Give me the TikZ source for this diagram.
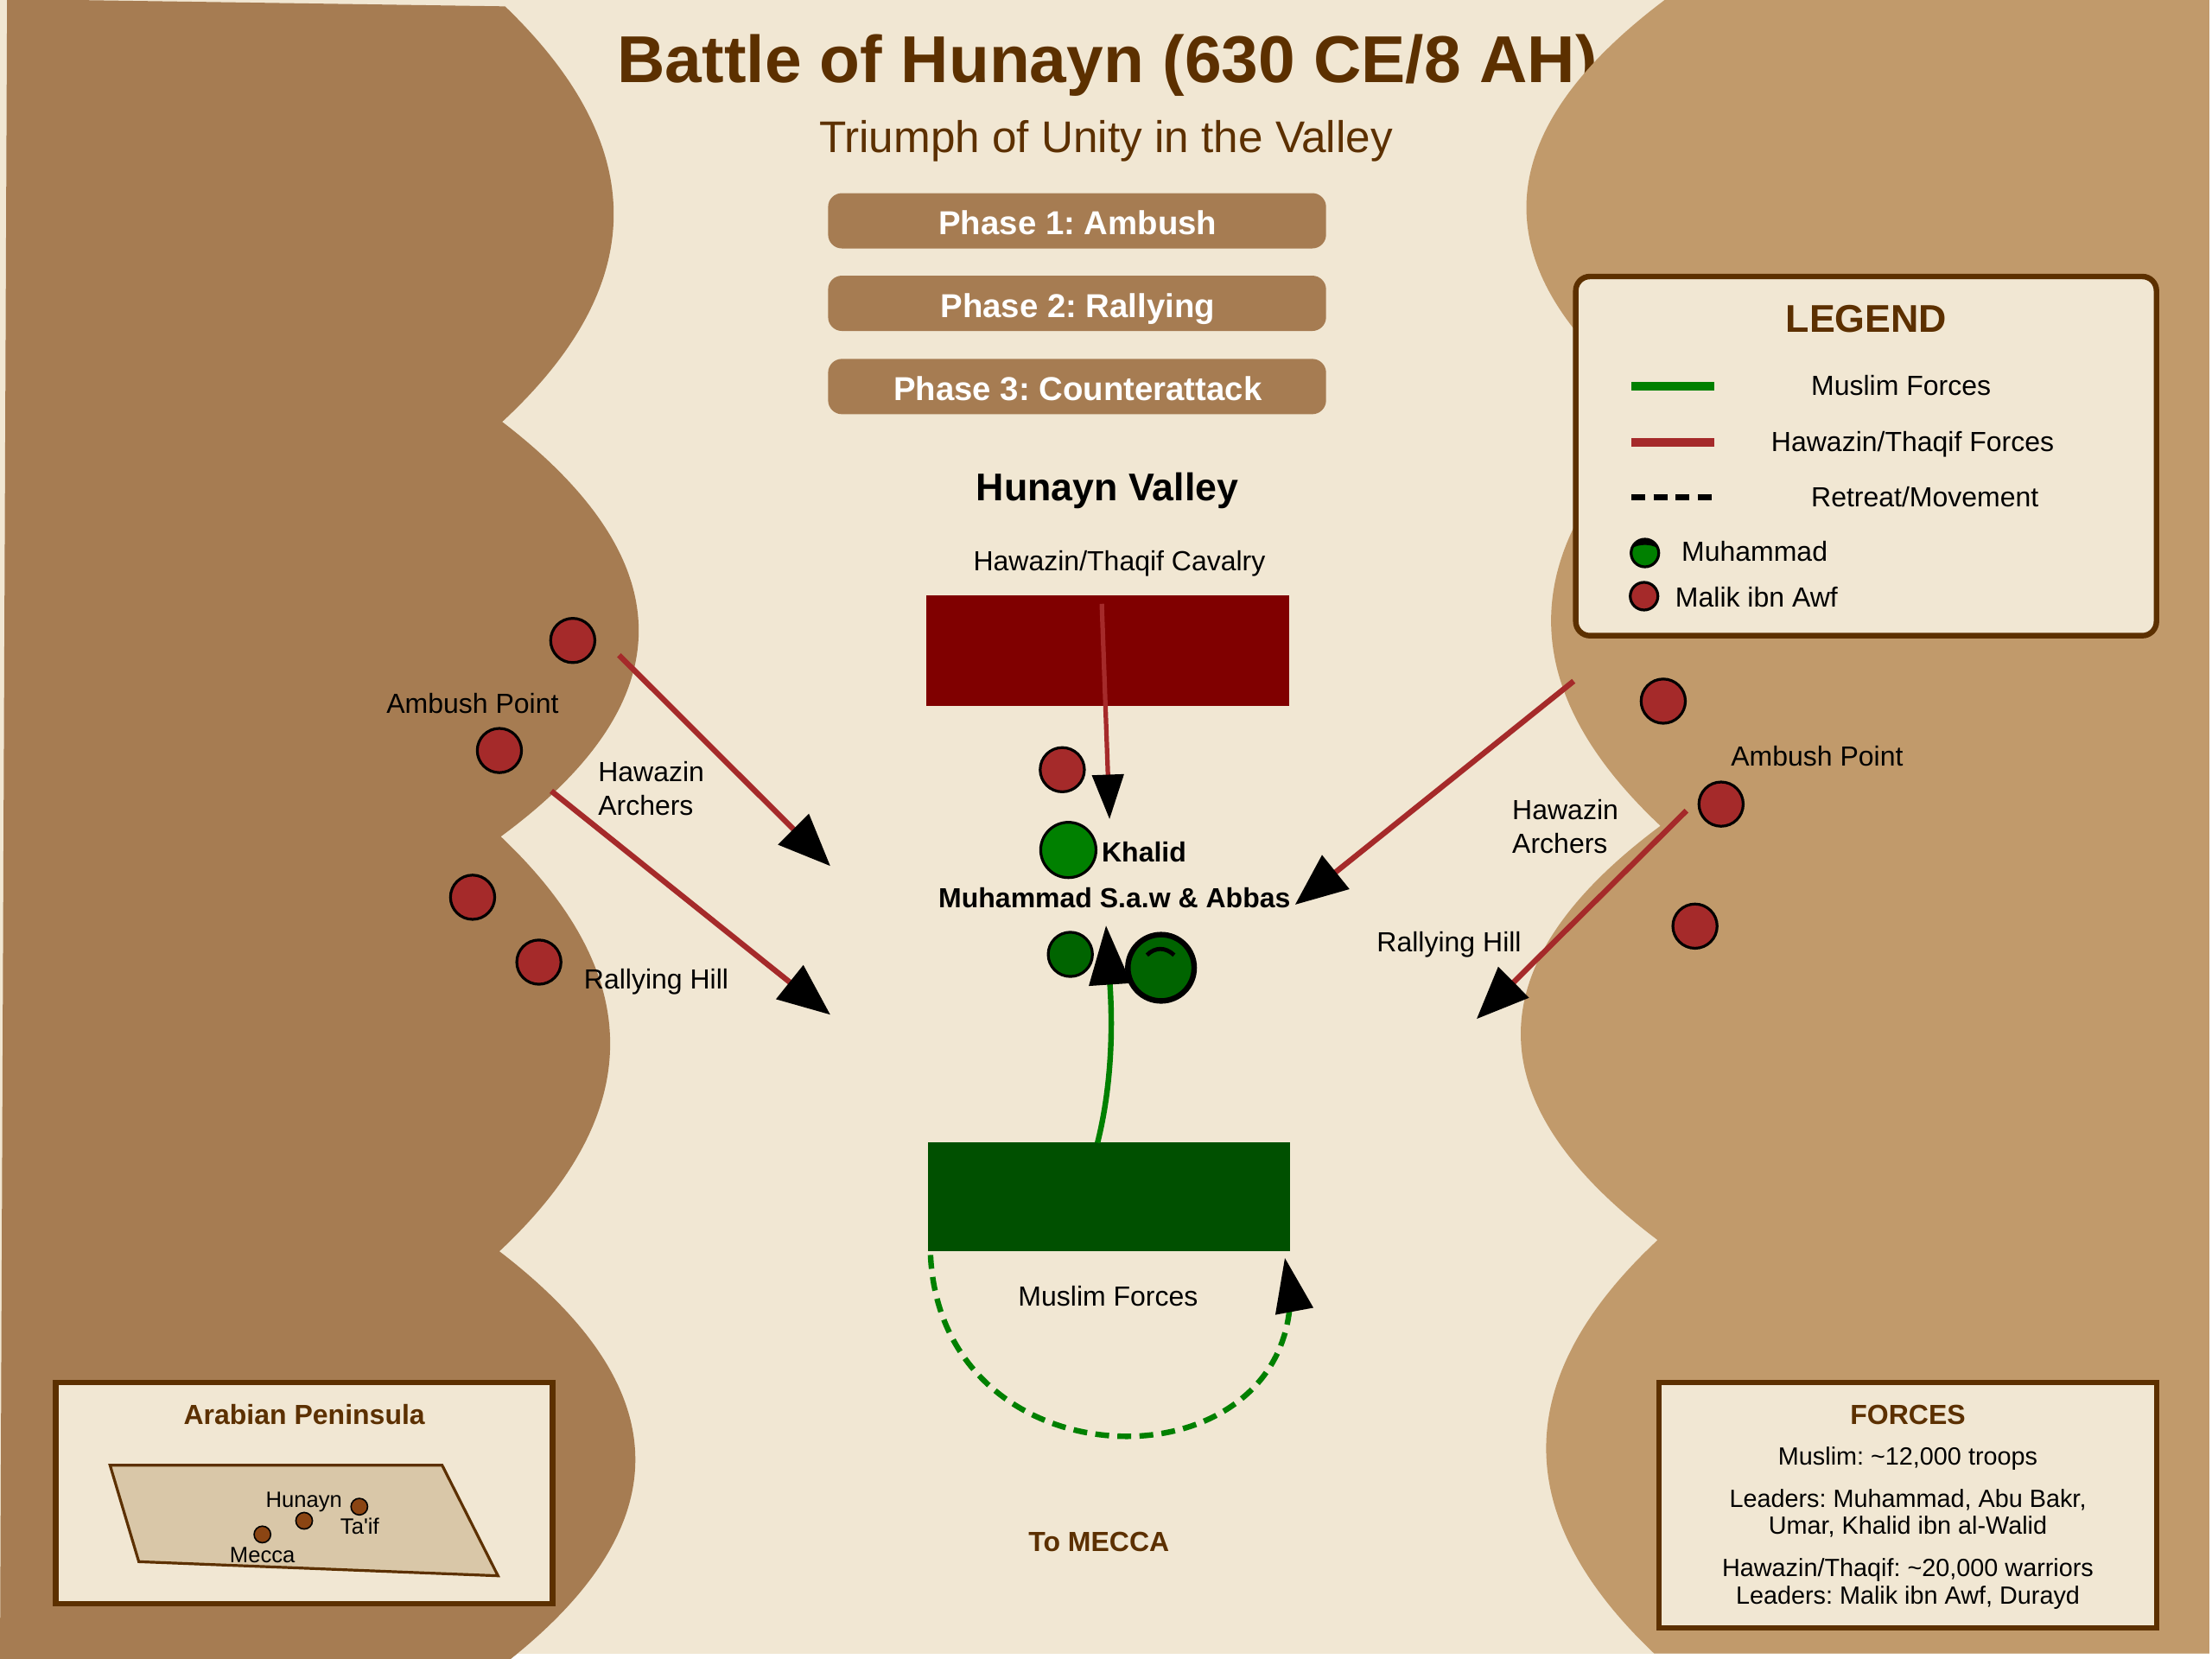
\documentclass[tikz,border=0pt]{standalone}
\usepackage{fontspec}
\setmainfont{Liberation Sans}[Ligatures=TeXOff]
\usetikzlibrary{arrows.meta}
\definecolor{cream}{HTML}{F1E7D3}
\definecolor{hillL}{HTML}{A67C52}
\definecolor{hillR}{HTML}{C19A6B}
\definecolor{inkbrown}{HTML}{5C3000}
\definecolor{redf}{HTML}{A52A2A}
\definecolor{greenf}{HTML}{008000}
\definecolor{dgreen}{HTML}{006400}
\definecolor{darkenemy}{HTML}{800000}
\definecolor{darkfriend}{HTML}{005000}
\definecolor{mapfill}{HTML}{D9C7A8}
\definecolor{mapdot}{HTML}{8B4513}
\tikzset{
  x=1pt,y=-1pt,
  txt/.style={anchor=base,inner sep=0pt,outer sep=0pt,font=\fontsize{19.6}{23}\selectfont,text=black,yshift=-0.7pt},
  txtw/.style={txt,anchor=base west},
  boldt/.style={txt,font=\bfseries\fontsize{19.6}{23}\selectfont},
  brownt/.style={boldt,text=inkbrown},
  smallt/.style={txt,font=\fontsize{15.7}{19}\selectfont,yshift=0.3pt},
  infot/.style={txt,font=\fontsize{17.64}{21}\selectfont},
  phasebox/.style={rectangle,rounded corners=9.8pt,fill=hillL,minimum width=353pt,minimum height=39.2pt,inner sep=0pt},
  phaset/.style={txt,font=\bfseries\fontsize{23.5}{28}\selectfont,text=white,yshift=0.7pt},
  panel/.style={rectangle,draw=inkbrown,line width=3.92pt,fill=cream,inner sep=0pt},
  unit/.style={rectangle,inner sep=0pt},
  dotn/.style={circle,draw=black,inner sep=0pt,line width=1.96pt},
  reddot/.style={dotn,fill=redf,minimum size=31.36pt},
  mapdotn/.style={circle,draw=black,inner sep=0pt,line width=1pt,fill=mapdot,minimum size=11.76pt},
  bigarrow/.style={line width=3.92pt,color=redf,-{Triangle[length=37pt,width=30pt,color=black]}},
  keyline/.style={line width=6.1pt},
}
\begin{document}
\frenchspacing
\begin{tikzpicture}
\useasboundingbox (0,0) rectangle (1568,1175.8);
% ground
\fill[cream] (0,0) rectangle (1566,1172);
% left hills
\fill[hillL] (5,0) -- (53,0) -- (358,4.5)
  .. controls (461.3,104) and (460.7,202) .. (356,299)
  .. controls (485.3,398.3) and (485,497.3) .. (355,593)
  .. controls (458.3,691) and (458.7,789) .. (354,887)
  .. controls (482.8,985.7) and (482.5,1084.3) .. (353,1183)
  -- (0,1183) -- cycle;
% title
\node[txt,font=\bfseries\fontsize{47}{56}\selectfont,text=inkbrown,yshift=2.2pt] (title) at (785,60) {Battle of Hunayn (630 CE/8 AH)};
\node[txt,font=\fontsize{31.4}{38}\selectfont,text=inkbrown,yshift=0.7pt] (subtitle) at (784,108) {Triumph of Unity in the Valley};
% right hills
\fill[hillR] (1180,0)
  .. controls (1049.7,98) and (1049.3,195.7) .. (1179,293)
  .. controls (1073.7,390.3) and (1073,487.7) .. (1177,585.4)
  .. controls (1045.7,683.1) and (1045,781) .. (1175,879)
  .. controls (1070.5,976.7) and (1069.7,1074.3) .. (1172.5,1172)
  -- (1566,1172) -- (1566,0) -- cycle;
% phases
\node[phasebox] (ph1) at (763.5,156.5) {};
\node[phasebox] (ph2) at (763.5,215) {};
\node[phasebox] (ph3) at (763.5,274) {};
\node[phaset] (ph1t) at (764,166) {Phase 1: Ambush};
\node[phaset] (ph2t) at (764,225) {Phase 2: Rallying};
\node[phaset] (ph3t) at (764,284) {Phase 3: Counterattack};
\node[boldt,font=\bfseries\fontsize{27.4}{33}\selectfont] (valley) at (785,354) {Hunayn Valley};
\node[txt] (cav) at (793.5,404) {Hawazin/Thaqif Cavalry};
% units
\node[unit,fill=darkenemy,minimum width=257.5pt,minimum height=78.4pt] (enemy) at (785.25,461.2) {};
\node[unit,fill=darkfriend,minimum width=256.7pt,minimum height=77pt] (muslim) at (786.1,848.1) {};
% figures
\node[reddot] (e1) at (406,454) {};
\node[reddot] (e2) at (354,532) {};
\node[reddot] (e3) at (335,636) {};
\node[reddot] (e4) at (382,682) {};
\node[reddot] (e5) at (1179,497) {};
\node[reddot] (e6) at (1220,570) {};
\node[reddot] (e7) at (1201.5,656.5) {};
\node[reddot] (malik) at (753,545.6) {};
\node[dotn,fill=greenf,minimum size=39.2pt] (khalid) at (757.3,602.5) {};
\node[dotn,fill=dgreen,minimum size=31.36pt] (abbas) at (758.7,676.5) {};
\node[dotn,fill=dgreen,line width=3.92pt,minimum size=47pt] (prophet) at (823,686) {};
\draw[black,line width=2.94pt] (813,677) .. controls (819,671.2) and (826,671.2) .. (832.3,677);
% labels
\node[txt] (amb1) at (335,505) {Ambush Point};
\node[txtw] (ha1a) at (424,553) {Hawazin};
\node[txtw] (ha1b) at (424,577) {Archers};
\node[txtw] (ral1) at (414,700) {Rallying Hill};
\node[txt] (amb2) at (1288,542) {Ambush Point};
\node[txtw] (ha2a) at (1072,580) {Hawazin};
\node[txtw] (ha2b) at (1072,604) {Archers};
\node[txtw] (ral2) at (976,674) {Rallying Hill};
\node[boldt,anchor=base west] (khalt) at (781,610) {Khalid};
\node[boldt] (mabb) at (790,643) {Muhammad S.a.w \& Abbas};
\node[txt] (mft) at (785.5,925) {Muslim Forces};
\node[brownt] (mecca) at (779,1099) {To MECCA};
% connectors
\coordinate (a1s) at (438.8,464.4); \coordinate (a1t) at (588.6,613.9);
\coordinate (a2s) at (390.8,560.7); \coordinate (a2t) at (588.6,719.3);
\coordinate (a3s) at (1115.5,482.8); \coordinate (a3t) at (918,641.3);
\coordinate (a4s) at (1195.5,574.6); \coordinate (a4t) at (1046.7,722.3);
\coordinate (a5s) at (781,428); \coordinate (a5t) at (786.5,580.7);
\coordinate (g1s) at (778,810); \coordinate (g1t) at (784,656);
\coordinate (g2s) at (659.6,889.6); \coordinate (g2e) at (914,929); \coordinate (g2t) at (910.8,891.8);
\draw[bigarrow] (a1s) -- (a1t);
\draw[bigarrow] (a2s) -- (a2t);
\draw[bigarrow] (a3s) -- (a3t);
\draw[bigarrow] (a4s) -- (a4t);
\draw[line width=3.2pt,color=redf,-{Triangle[length=31.6pt,width=22pt,color=black]}] (a5s) -- (a5t);
\draw[line width=3.92pt,color=greenf,-{Triangle[length=42pt,width=29pt,color=black]}] (g1s) .. controls (790,762) and (788,716) .. (g1t);
\draw[line width=3.92pt,color=greenf,dash pattern=on 9.8pt off 5.88pt] (g2s) .. controls (667.16,1050) and (899,1057) .. (g2e);
\fill[black] (904,932) -- (931,927) -- (g2t) -- cycle;
% legend
\node[panel,rounded corners=10pt,minimum width=411.6pt,minimum height=254.6pt] (legend) at (1322.8,323.3) {};
\node[brownt,font=\bfseries\fontsize{27.4}{33}\selectfont] (legt) at (1323,235) {LEGEND};
\coordinate (k1a) at (1156.4,274); \coordinate (k1b) at (1215,274);
\coordinate (k2a) at (1156.4,313.4); \coordinate (k2b) at (1215,313.4);
\coordinate (k3a) at (1156.4,352.6); \coordinate (k3b) at (1214,352.6);
\draw[keyline,greenf] (k1a) -- (k1b);
\draw[keyline,redf] (k2a) -- (k2b);
\draw[line width=3.92pt,black,dash pattern=on 9.8pt off 5.88pt] (k3a) -- (k3b);
\node[txt] (k1t) at (1347.6,279.7) {Muslim Forces};
\node[txt] (k2t) at (1355.8,319.5) {Hawazin/Thaqif Forces};
\node[txt] (k3t) at (1364.5,358.4) {Retreat/Movement};
\node[dotn,fill=greenf,minimum size=19.6pt] (k4) at (1166,392) {};
\fill[black] (1157,388.5) .. controls (1160,379.5) and (1172,379.5) .. (1175,388.5) .. controls (1170,385.5) and (1162,385.5) .. (1157,388.5) -- cycle;
\node[dotn,fill=redf,minimum size=19.6pt] (k5) at (1165.4,422.6) {};
\node[txtw] (k4t) at (1192,397) {Muhammad};
\node[txtw] (k5t) at (1187.6,429.7) {Malik ibn Awf};
% inset map
\node[panel,minimum width=352.2pt,minimum height=156.6pt] (mapbox) at (215.6,1058.3) {};
\node[brownt] (mapt) at (215.7,1009) {Arabian Peninsula};
\draw[inkbrown,fill=mapfill,line width=1.96pt] (78,1038.6) -- (313.4,1038.6) -- (353,1117) -- (98.4,1107) -- cycle;
\node[mapdotn] (mh) at (215.6,1078) {};
\node[mapdotn] (mt) at (254.7,1068) {};
\node[mapdotn] (mm) at (186,1087.7) {};
\node[smallt] (mht) at (215.5,1068) {Hunayn};
\node[smallt] (mtt) at (255,1087) {Ta'if};
\node[smallt] (mmt) at (186,1107) {Mecca};
% forces
\node[panel,minimum width=352.6pt,minimum height=174pt] (forces) at (1352.3,1067) {};
\node[brownt] (ft) at (1352.4,1009) {FORCES};
\node[infot] (f1) at (1352.4,1038) {Muslim: \textasciitilde 12,000 troops};
\node[infot] (f2) at (1352.4,1067.6) {Leaders: Muhammad, Abu Bakr,};
\node[infot] (f3) at (1352.4,1087) {Umar, Khalid ibn al-Walid};
\node[infot] (f4) at (1352.4,1116.6) {Hawazin/Thaqif: \textasciitilde 20,000 warriors};
\node[infot] (f5) at (1352.4,1136.3) {Leaders: Malik ibn Awf, Durayd};
\end{tikzpicture}
\end{document}
